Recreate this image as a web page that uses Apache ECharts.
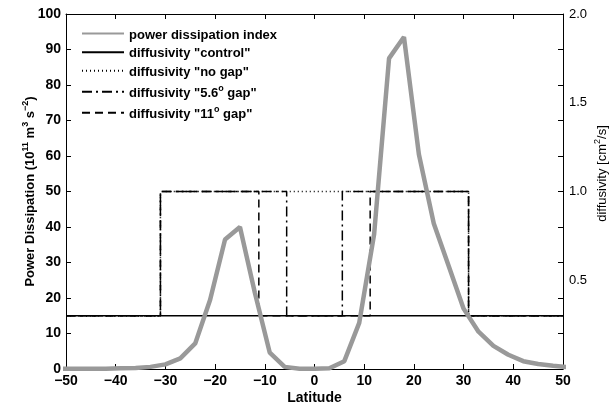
<!DOCTYPE html>
<html>
<head>
<meta charset="utf-8">
<script src="https://cdn.jsdelivr.net/npm/echarts@6/dist/echarts.min.js"></script>
<style>
html,body{margin:0;padding:0;background:#fff;}
#chart{width:616px;height:412px;}
</style>
</head>
<body>
<div id="chart"></div>
<script>
// ---- data ----
const powerLat = [-51,-48,-45,-42,-39,-36,-33,-30,-27,-24,-21,-18,-15,-12,-9,-6,-3,0,3,6,9,12,15,18,21,24,27,30,33,36,39,42,45,48,51];
const powerVal = [0.1,0.1,0.1,0.1,0.2,0.3,0.6,1.3,3.0,7.2,19.5,36.5,40,21.5,4.6,0.6,0.1,0.1,0.2,2.2,13,38,87.5,93.5,60.5,41,29,17,10.5,6.5,4,2.2,1.4,0.9,0.5];

const controlLat = [-50, 50];
const controlVal = [0.3, 0.3];

const noGapLat = [-50,-31,-31,31,31,50];
const noGapVal = [0.3,0.3,1.0,1.0,0.3,0.3];

const gap56Lat = [-50,-31,-31,-5.6,-5.6,5.6,5.6,31,31,50];
const gap56Val = [0.3,0.3,1.0,1.0,0.3,0.3,1.0,1.0,0.3,0.3];

const gap11Lat = [-50,-31,-31,-11.2,-11.2,11.2,11.2,31,31,50];
const gap11Val = [0.3,0.3,1.0,1.0,0.3,0.3,1.0,1.0,0.3,0.3];

const seriesNames = ['power dissipation index','diffusivity "control"','diffusivity "no gap"','diffusivity "5.6° gap"','diffusivity "11° gap"'];

const xTicks = {min:-50, max:50, interval:10};
const yLeftTicks = {min:0, max:100, interval:10};
const yRightTicks = {min:0, max:2, interval:0.2};
const yRightLabels = {min:0, max:2, interval:0.5};

function pairs(xs, ys){ return xs.map((x,i)=>[x, ys[i]]); }

const chart = echarts.init(document.getElementById('chart'));
const FONT = '"Liberation Sans", Arial, Helvetica, sans-serif';
const supStyle = {fontSize: 9, fontWeight: 'bold', fontFamily: FONT, color:'#000', verticalAlign:'top', lineHeight: 16};
const mainBold = {fontSize: 13, fontWeight: 'bold', fontFamily: FONT, color:'#000', verticalAlign:'bottom', lineHeight: 16};

const option = {
  animation: false,
  backgroundColor: '#fff',
  grid: {left: 66, right: 53, top: 14, bottom: 43, containLabel: false, outerBoundsMode: 'none'},
  legend: {
    orient: 'vertical',
    left: 81, top: 28, padding: 0,
    itemWidth: 42, itemHeight: 14, itemGap: 5,
    data: seriesNames,
    itemStyle: {opacity: 0},
    textStyle: {fontFamily: FONT, fontSize: 13, fontWeight: 'bold', color: '#000',
      rich: {m: mainBold, s: supStyle}},
    formatter: function(name){
      if (name.indexOf('°') >= 0) {
        const parts = name.split('°');
        return '{m|' + parts[0] + '}{s|o}{m|' + parts[1] + '}';
      }
      return '{m|' + name + '}';
    }
  },
  xAxis: [{
    type: 'value', position: 'bottom',
    min: xTicks.min, max: xTicks.max, interval: xTicks.interval,
    axisLine: {show: true, onZero: false, lineStyle: {color: '#000', width: 1}},
    axisTick: {show: true, inside: true, length: 5, lineStyle: {color: '#000'}},
    axisLabel: {color: '#000', fontFamily: FONT, fontSize: 14, fontWeight: 'bold', margin: 5,
      formatter: v => String(v).replace('-', '\u2212')},
    splitLine: {show: false},
    name: 'Latitude', nameLocation: 'middle', nameGap: 22, nameMoveOverlap: false,
    nameTextStyle: {color: '#000', fontFamily: FONT, fontSize: 14, fontWeight: 'bold'}
  },{
    type: 'value', position: 'top',
    min: xTicks.min, max: xTicks.max, interval: xTicks.interval,
    axisLine: {show: true, onZero: false, lineStyle: {color: '#000', width: 1}},
    axisTick: {show: true, inside: true, length: 5, lineStyle: {color: '#000'}},
    axisLabel: {show: false},
    splitLine: {show: false}
  }],
  yAxis: [{
    type: 'value', position: 'left',
    min: yLeftTicks.min, max: yLeftTicks.max, interval: yLeftTicks.interval,
    axisLine: {show: true, onZero: false, lineStyle: {color: '#000', width: 1}},
    axisTick: {show: true, inside: true, length: 5, lineStyle: {color: '#000'}},
    axisLabel: {color: '#000', fontFamily: FONT, fontSize: 14, fontWeight: 'bold', margin: 5},
    splitLine: {show: false},
    name: '{m|Power Dissipation (10}{s|11}{m| m}{s|3}{m| s}{s|\u22122}{m|)}',
    nameLocation: 'middle', nameGap: 29, nameRotate: 90, nameMoveOverlap: false,
    nameTextStyle: {rich: {m: mainBold, s: supStyle}}
  },{
    type: 'value', position: 'right',
    min: yRightTicks.min, max: yRightTicks.max, interval: yRightTicks.interval,
    axisLine: {show: true, onZero: false, lineStyle: {color: '#000', width: 1}},
    axisTick: {show: true, inside: true, length: 5, lineStyle: {color: '#000'}},
    axisLabel: {show: false},
    splitLine: {show: false}
  },{
    type: 'value', position: 'right',
    min: yRightLabels.min, max: yRightLabels.max, interval: yRightLabels.interval,
    axisLine: {show: false},
    axisTick: {show: false},
    axisLabel: {color: '#000', fontFamily: FONT, fontSize: 13, margin: 6,
      formatter: v => v === 0 ? '' : v.toFixed(1)},
    splitLine: {show: false},
    name: '{m|diffusivity [cm}{s|2}{m|/s]}',
    nameLocation: 'middle', nameGap: 30, nameRotate: 90, nameMoveOverlap: false,
    nameTextStyle: {padding: [0, 0, 0, 36], rich: {
      m: {fontSize: 13, fontFamily: FONT, color: '#000', verticalAlign: 'bottom', lineHeight: 16},
      s: {fontSize: 9, fontFamily: FONT, color: '#000', verticalAlign: 'top', lineHeight: 16}
    }}
  }],
  series: [
    {name: seriesNames[1], type: 'line', xAxisIndex: 0, yAxisIndex: 1, symbol: 'none', z: 2,
      data: pairs(controlLat, controlVal), lineStyle: {color: '#000', width: 1.5, type: 'solid'}, itemStyle:{color:'#000'}},
    {name: seriesNames[2], type: 'line', xAxisIndex: 0, yAxisIndex: 1, symbol: 'none', z: 2,
      data: pairs(noGapLat, noGapVal), lineStyle: {color: '#000', width: 1.5, type: [1, 3]}, itemStyle:{color:'#000'}},
    {name: seriesNames[3], type: 'line', xAxisIndex: 0, yAxisIndex: 1, symbol: 'none', z: 2,
      data: pairs(gap56Lat, gap56Val), lineStyle: {color: '#000', width: 1.5, type: [10, 4, 2, 4]}, itemStyle:{color:'#000'}},
    {name: seriesNames[4], type: 'line', xAxisIndex: 0, yAxisIndex: 1, symbol: 'none', z: 2,
      data: pairs(gap11Lat, gap11Val), lineStyle: {color: '#000', width: 1.5, type: [8, 5]}, itemStyle:{color:'#000'}},
    {name: seriesNames[0], type: 'line', xAxisIndex: 0, yAxisIndex: 0, symbol: 'none', z: 3, clip: true,
      data: pairs(powerLat, powerVal), lineStyle: {color: '#999999', width: 4.5}, itemStyle:{color:'#999999'}}
  ]
};
chart.setOption(option);
</script>
</body>
</html>
